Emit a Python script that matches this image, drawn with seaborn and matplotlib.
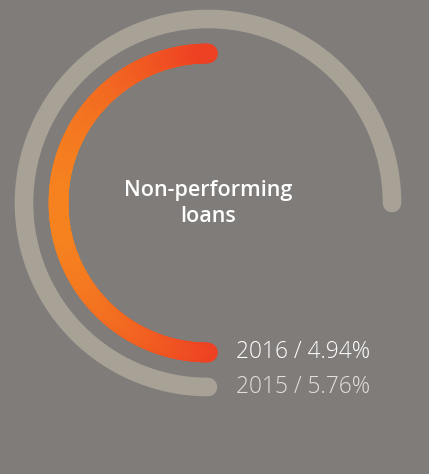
import numpy as np
import pandas as pd
import matplotlib.pyplot as plt
import seaborn as sns
from matplotlib.collections import LineCollection
from matplotlib.colors import LinearSegmentedColormap

# Data
years = ["2016", "2015"]
npl_values = [4.94, 5.76]
title_lines = ["Non-performing", "loans"]

# gauge domain: one full turn of the circle
GAUGE_MIN = 3.30
GAUGE_MAX = 6.58

BG = "#807c7a"
TRACK = "#a8a196"
ORANGE = "#f5821f"
RED = "#ee4023"

W, H = 429, 474
sns.set_theme(style="white")
plt.rcParams["font.family"] = ["Open Sans", "DejaVu Sans"]

fig = plt.figure(figsize=(W / 100, H / 100), dpi=100, facecolor=BG)

# polar axes centred on the gauge centre (pixels: x=208, y=203 from top)
cx, cy, half = 208, 203, 200
ax = fig.add_axes([(cx - half) / W, (H - cy - half) / H, 2 * half / W, 2 * half / H],
                  projection="polar")
ax.set_theta_zero_location("S")
ax.set_theta_direction(-1)
ax.set_ylim(0, half)
ax.patch.set_alpha(0)
ax.axis("off")


def to_theta(v):
    return (v - GAUGE_MIN) / (GAUGE_MAX - GAUGE_MIN) * 2 * np.pi


radii = {"2016": 149.5, "2015": 184}

# 2015 track (grey)
th15 = np.linspace(0, to_theta(npl_values[1]), 300)
df15 = pd.DataFrame({"theta": th15, "r": radii["2015"]})
sns.lineplot(data=df15, x="theta", y="r", ax=ax, color=TRACK, lw=13.4,
             solid_capstyle="round", sort=False)

# 2016 arc with horizontal orange -> red gradient
th16 = np.linspace(0, to_theta(npl_values[0]), 400)
pts = np.column_stack([th16, np.full_like(th16, radii["2016"])])
segs = np.stack([pts[:-1], pts[1:]], axis=1)
cmap = LinearSegmentedColormap.from_list("npl", [RED, ORANGE])
shade = np.sin((th16[:-1] + th16[1:]) / 2)
lc = LineCollection(segs, colors=cmap(shade), linewidths=14.2, capstyle="round")
ax.add_collection(lc)

# centre title
fig.text(cx / W, 1 - 196 / H, title_lines[0], ha="center", va="baseline",
         color="white", fontsize=15.5, fontweight="semibold")
fig.text(cx / W, 1 - 222 / H, title_lines[1], ha="center", va="baseline",
         color="white", fontsize=15.5, fontweight="semibold")

# labels at the start of each arc
label_colors = ["#ffffff", "#e2dfda"]
for yr, val, col in zip(years, npl_values, label_colors):
    ax.annotate(f"{yr} / {val:.2f}%", xy=(0, radii[yr]), xytext=(28, 0),
                textcoords="offset pixels", ha="left", va="center",
                color=col, fontsize=16.4, fontweight="light")

fig.savefig("out.png", dpi=100, facecolor=BG)
